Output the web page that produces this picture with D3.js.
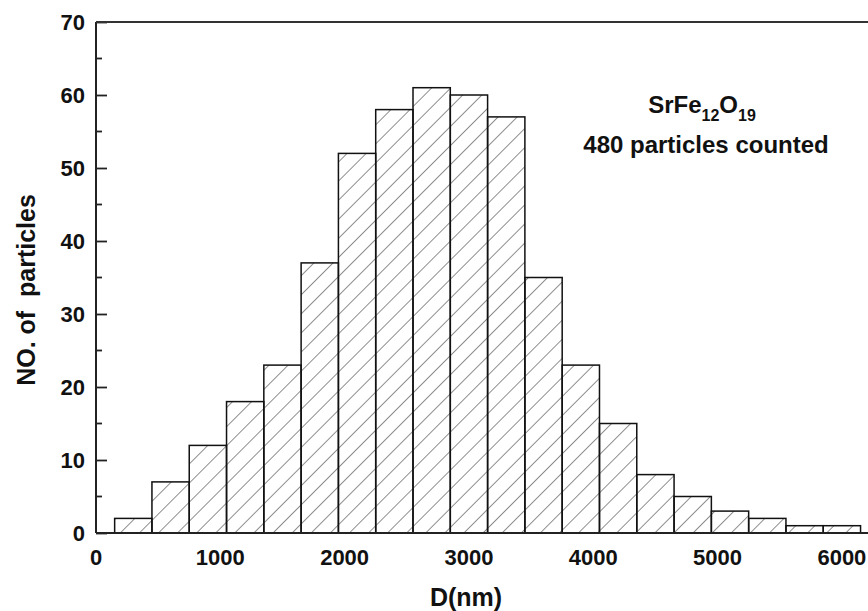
<!DOCTYPE html>
<html>
<head>
<meta charset="utf-8">
<script src="https://cdn.jsdelivr.net/npm/d3@7"></script>
<style>
  body { margin: 0; background: #fff; }
  text { font-family: "Liberation Sans", Arial, sans-serif; font-weight: bold; fill: #111; }
</style>
</head>
<body>
<div id="chart"></div>
<script>
// Histogram data: bins of 300 nm starting at 150 nm
var binStart = [150, 450, 750, 1050, 1350, 1650, 1950, 2250, 2550, 2850,
  3150, 3450, 3750, 4050, 4350, 4650, 4950, 5250, 5550, 5850];
var binWidth = 300;
var counts = [2, 7, 12, 18, 23, 37, 52, 58, 61, 60, 57, 35, 23, 15, 8, 5, 3, 2, 1, 1];
var xTicks = [0, 1000, 2000, 3000, 4000, 5000, 6000];
var yTicks = [0, 10, 20, 30, 40, 50, 60, 70];

var svgWidth = 868;
var svgHeight = 611;

var margin = { top: 22, right: 0, bottom: 78, left: 96 };
var width = svgWidth - margin.left - margin.right;
var height = svgHeight - margin.top - margin.bottom;

var svg = d3.select("#chart")
  .append("svg")
  .attr("width", svgWidth)
  .attr("height", svgHeight);

// hatch pattern
var defs = svg.append("defs");
defs.append("pattern")
  .attr("id", "hatch")
  .attr("patternUnits", "userSpaceOnUse")
  .attr("width", 13.5)
  .attr("height", 13.5)
  .attr("patternTransform", "rotate(45)")
  .append("line")
  .attr("x1", 0).attr("y1", 0)
  .attr("x2", 0).attr("y2", 13.5)
  .attr("stroke", "#333")
  .attr("stroke-width", 1.1);

var chartGroup = svg.append("g")
  .attr("transform", `translate(${margin.left}, ${margin.top})`);

var x = d3.scaleLinear().domain([0, 6210]).range([0, width]);
var y = d3.scaleLinear().domain([0, 70]).range([height, 0]);

// bars
chartGroup.selectAll("rect.bar")
  .data(counts)
  .enter()
  .append("rect")
  .attr("class", "bar")
  .attr("x", (d, i) => x(binStart[i]))
  .attr("y", d => y(d))
  .attr("width", (d, i) => x(binStart[i] + binWidth) - x(binStart[i]))
  .attr("height", d => height - y(d))
  .attr("fill", "url(#hatch)")
  .attr("stroke", "#111")
  .attr("stroke-width", 1.5);

// left axis, ticks inward
var leftAxis = d3.axisRight(y)
  .tickValues(yTicks)
  .tickSize(11)
  .tickFormat("");
var yAxis = chartGroup.append("g").call(leftAxis);
yAxis.select(".domain").remove();
yAxis.selectAll(".tick line").attr("stroke", "#222").attr("stroke-width", 1.8);

// minor y ticks
var minor = d3.range(5, 70, 10);
chartGroup.selectAll("line.minor")
  .data(minor)
  .enter()
  .append("line")
  .attr("class", "minor")
  .attr("x1", 0).attr("x2", 6)
  .attr("y1", d => y(d)).attr("y2", d => y(d))
  .attr("stroke", "#222")
  .attr("stroke-width", 1.8);

// y tick labels
chartGroup.selectAll("text.ylab")
  .data(yTicks)
  .enter()
  .append("text")
  .attr("class", "ylab")
  .attr("x", -11)
  .attr("y", d => y(d) + 8)
  .attr("text-anchor", "end")
  .attr("font-size", "22px")
  .text(d => d);

// x tick labels
chartGroup.selectAll("text.xlab")
  .data(xTicks)
  .enter()
  .append("text")
  .attr("class", "xlab")
  .attr("x", d => x(d))
  .attr("y", height + 32)
  .attr("text-anchor", "middle")
  .attr("font-size", "22px")
  .text(d => d);

// frame lines
chartGroup.append("line")
  .attr("x1", 0).attr("x2", 0)
  .attr("y1", 0).attr("y2", height)
  .attr("stroke", "#222").attr("stroke-width", 2);
chartGroup.append("line")
  .attr("x1", 0).attr("x2", width)
  .attr("y1", height).attr("y2", height)
  .attr("stroke", "#222").attr("stroke-width", 2);
chartGroup.append("line")
  .attr("x1", 0).attr("x2", width)
  .attr("y1", 0).attr("y2", 0)
  .attr("stroke", "#333").attr("stroke-width", 2.2);

// axis titles
svg.append("text")
  .attr("x", 466)
  .attr("y", 606)
  .attr("text-anchor", "middle")
  .attr("font-size", "25px")
  .text("D(nm)");

svg.append("text")
  .attr("transform", "translate(35, 290) rotate(-90)")
  .attr("text-anchor", "middle")
  .attr("font-size", "25px")
  .style("white-space", "pre")
  .text("NO. of  particles");

// annotation
var formula = svg.append("text")
  .attr("x", 702)
  .attr("y", 113)
  .attr("text-anchor", "middle")
  .attr("font-size", "24px");
formula.append("tspan").text("SrFe");
formula.append("tspan").attr("font-size", "16px").attr("dy", 8).text("12");
formula.append("tspan").attr("dy", -8).text("O");
formula.append("tspan").attr("font-size", "16px").attr("dy", 8).text("19");

svg.append("text")
  .attr("x", 706)
  .attr("y", 153)
  .attr("text-anchor", "middle")
  .attr("font-size", "24px")
  .text("480 particles counted");
</script>
</body>
</html>
